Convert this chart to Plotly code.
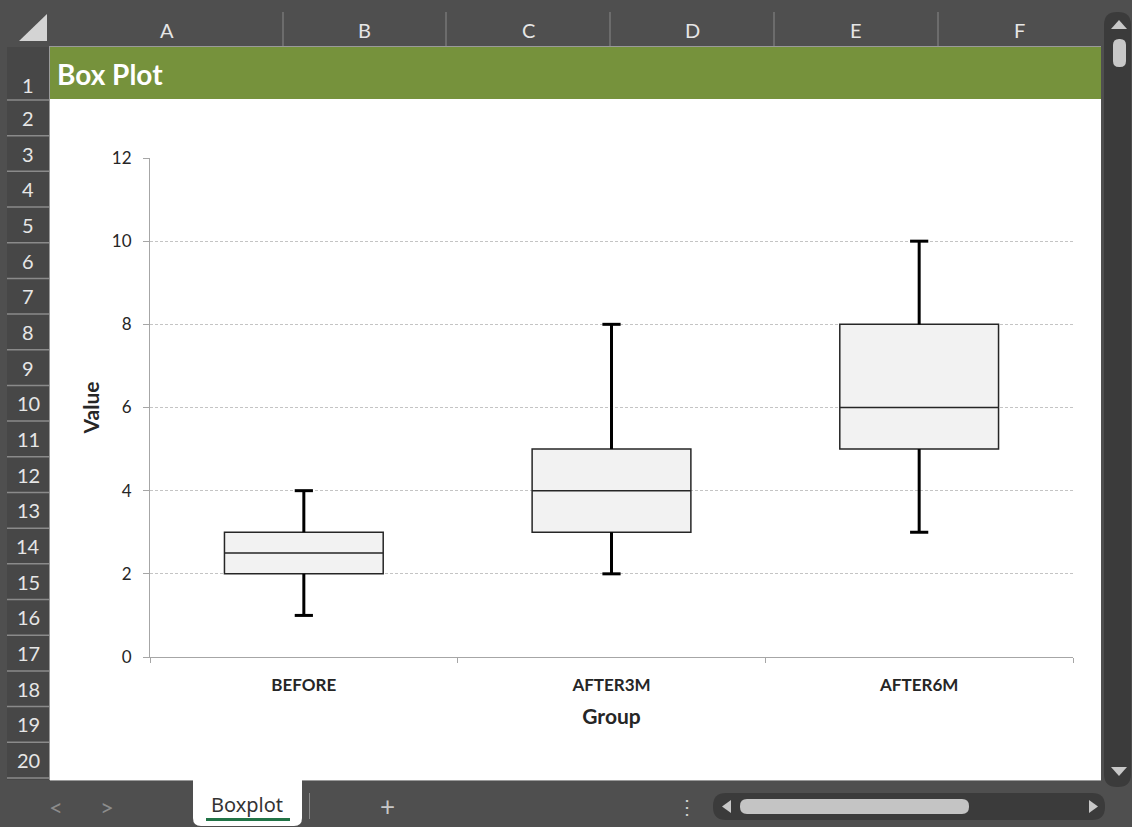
import plotly.graph_objects as go

# data
groups = ["BEFORE", "AFTER3M", "AFTER6M"]
mins = [1, 2, 3]
q1s = [2, 3, 5]
medians = [2.5, 4, 6]
q3s = [3, 5, 8]
maxs = [4, 8, 10]

col_letters = ["A", "B", "C", "D", "E", "F"]
row_numbers = list(range(1, 21))

# page / plot geometry in pixels
W, H = 1132, 827
L, R, T, B = 150, 1073, 158, 657

def px(x):
    return (x - L) / (R - L)

def py(y):
    return (B - y) / (B - T)

shapes = []
annots = []

def rect(x0, y0, x1, y1, fill, line=None, lw=0, layer="below"):
    shapes.append(dict(type="rect", xref="paper", yref="paper",
                       x0=px(x0), x1=px(x1), y0=py(y0), y1=py(y1),
                       fillcolor=fill, layer=layer,
                       line=dict(color=line or fill, width=lw)))

def hline(x0, x1, y, color, lw=1):
    shapes.append(dict(type="line", xref="paper", yref="paper",
                       x0=px(x0), x1=px(x1), y0=py(y), y1=py(y), layer="below",
                       line=dict(color=color, width=lw)))

def vline(x, y0, y1, color, lw=1):
    shapes.append(dict(type="line", xref="paper", yref="paper",
                       x0=px(x), x1=px(x), y0=py(y0), y1=py(y1), layer="below",
                       line=dict(color=color, width=lw)))

def poly(pts, fill):
    p = "M " + " L ".join(f"{px(x)},{py(y)}" for x, y in pts) + " Z"
    shapes.append(dict(type="path", xref="paper", yref="paper", path=p,
                       fillcolor=fill, line=dict(width=0), layer="below"))

def rrect(x0, y0, x1, y1, r, fill):
    def P(x, y):
        return f"{px(x)},{py(y)}"
    p = (f"M {P(x0 + r, y0)} L {P(x1 - r, y0)} Q {P(x1, y0)} {P(x1, y0 + r)} "
         f"L {P(x1, y1 - r)} Q {P(x1, y1)} {P(x1 - r, y1)} "
         f"L {P(x0 + r, y1)} Q {P(x0, y1)} {P(x0, y1 - r)} "
         f"L {P(x0, y0 + r)} Q {P(x0, y0)} {P(x0 + r, y0)} Z")
    shapes.append(dict(type="path", xref="paper", yref="paper", path=p,
                       fillcolor=fill, line=dict(width=0), layer="below"))

def text(x, y, s, size, color, bold=False, anchor="center", family="Lato, 'Noto Sans', sans-serif"):
    annots.append(dict(xref="paper", yref="paper", x=px(x), y=py(y),
                       text=f"<b>{s}</b>" if bold else s, showarrow=False,
                       xanchor=anchor, yanchor="middle",
                       font=dict(size=size, color=color, family=family)))

# sheet chrome
CHROME = "#4f4f4f"
rect(50, 47, 1101, 780, "white")
rect(50, 47, 1101, 99, "#76923c")
text(55, 74, "Box Plot", 28, "white", bold=True, anchor="left")

# column header
col_edges = [50, 283, 446, 610, 774, 938, 1101]
for i, c in enumerate(col_letters):
    text((col_edges[i] + col_edges[i + 1]) / 2, 30, c, 20, "#e6e6e6")
    if 0 < i:
        vline(col_edges[i], 12, 46, "#8a8a8a")
hline(50, 1101, 46.5, "#9a9a9a")
poly([(47, 14), (47, 41), (19, 41)], "#d4d4d4")

# row header
rect(7, 47, 49, 780, "#474747")
row_edges = [47, 100] + [100 + k * 35.68 for k in range(1, 20)]
for i, n in enumerate(row_numbers):
    y0, y1 = row_edges[i], row_edges[i + 1]
    text(28, 85 if i == 0 else (y0 + y1) / 2, str(n), 20, "#e6e6e6")
    hline(7, 49, y1, "#8a8a8a", 1.5)
vline(49.5, 46, 780, "#9a9a9a")
hline(50, 1101, 780.5, "#9a9a9a")

# vertical scrollbar
rrect(1104, 12, 1131, 787, 13, "#3b3b3b")
rrect(1113, 39, 1126, 67, 6, "#c8c8c8")
poly([(1111, 29), (1127, 29), (1119, 20)], "#c8c8c8")
poly([(1111, 767), (1127, 767), (1119, 776)], "#c8c8c8")

# bottom bar
text(56, 806, "&lt;", 24, "#8c8c8c")
text(107, 806, "&gt;", 24, "#8c8c8c")
rrect(193, 770, 302, 826, 8, "white")
rect(193, 770, 302, 781, "white")
text(247, 804, "Boxplot", 20, "#333333", family="'Noto Sans', sans-serif")
rect(206, 818, 290, 821, "#217346")
vline(309.5, 793, 819, "#8a8a8a")
text(387, 806, "+", 26, "#c8c8c8")
text(687, 806, "⋮", 20, "#d0d0d0")
rrect(713, 793, 1105, 820, 13, "#3b3b3b")
rrect(740, 799, 969, 814, 7, "#c4c4c4")
poly([(731, 800), (731, 813), (722, 806.5)], "#c8c8c8")
poly([(1089, 800), (1089, 813), (1098, 806.5)], "#c8c8c8")

# chart
fig = go.Figure()
fig.add_trace(go.Box(
    x=groups, q1=q1s, median=medians, q3=q3s,
    lowerfence=mins, upperfence=maxs, width=0.516,
    fillcolor="#f2f2f2", line=dict(color="#262626", width=1.5),
    whiskerwidth=0, boxpoints=False, showlegend=False, hoverinfo="skip",
))

# thick whiskers on top of the box trace
wx, wy = [], []
for g, lo, a, b, hi in zip(groups, mins, q1s, q3s, maxs):
    wx += [g, g, None, g, g, None]
    wy += [lo, a, None, b, hi, None]
fig.add_trace(go.Scatter(x=wx, y=wy, mode="lines", line=dict(color="black", width=3),
                         showlegend=False, hoverinfo="skip"))
fig.add_trace(go.Scatter(x=groups + groups, y=mins + maxs, mode="markers",
                         marker=dict(symbol="line-ew", size=13, line=dict(color="black", width=3)),
                         showlegend=False, hoverinfo="skip"))

font_family = "Lato, 'Noto Sans', sans-serif"
fig.update_layout(
    width=W, height=H,
    margin=dict(l=L, r=W - R, t=T, b=H - B, pad=0),
    paper_bgcolor=CHROME, plot_bgcolor="white",
    shapes=shapes, annotations=annots,
    font=dict(family=font_family, color="#262626"),
    xaxis=dict(
        type="category", range=[-0.5, len(groups) - 0.5],
        showgrid=False, tickson="boundaries",
        ticks="outside", ticklen=5, tickcolor="#a6a6a6",
        showline=True, linecolor="#a6a6a6", linewidth=1.2,
        tickfont=dict(size=17, color="#262626", family=font_family),
        tickprefix="<b>", ticksuffix="</b>", ticklabelstandoff=12,
        title=dict(text="<b>Group</b>", font=dict(size=21, color="#262626"), standoff=15),
        fixedrange=True,
    ),
    yaxis=dict(
        range=[0, 12], dtick=2, showgrid=True, gridcolor="#c4c4c4", griddash="3px,2px",
        zeroline=False, showline=True, linecolor="#a6a6a6", linewidth=1.2,
        ticks="outside", ticklen=6, tickcolor="#a6a6a6",
        tickfont=dict(size=17, color="#262626", family=font_family),
        ticklabelstandoff=8,
        title=dict(text="<b>Value</b>", font=dict(size=21, color="#262626"), standoff=6),
        fixedrange=True,
    ),
)

fig.write_html("out.html", config={"displayModeBar": False},
               post_script="document.body.style.margin='0';")
